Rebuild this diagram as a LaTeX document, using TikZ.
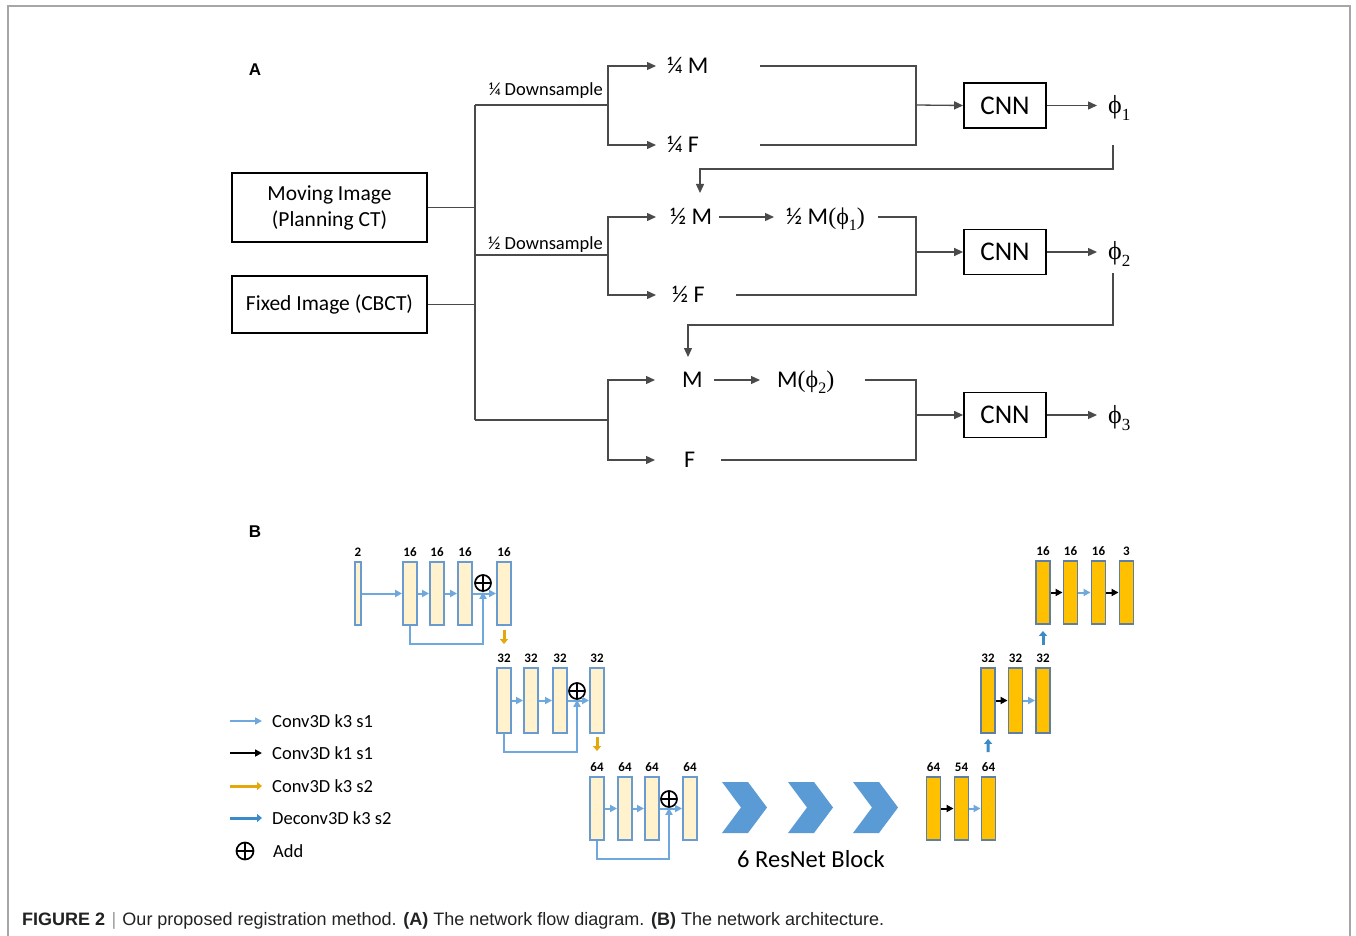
\documentclass[tikz,border=0pt]{standalone}
\usepackage{fontspec}
\setmainfont{Carlito}
\newfontfamily\capfont{Liberation Sans}
\newfontfamily\phifont{Liberation Serif}
\usetikzlibrary{arrows.meta,calc}

% displacement field symbol with a lowered index: #1 index, #2 index size
\newcommand{\phisub}[2]{{\phifont ϕ\raisebox{-0.25em}{\fontsize{#2}{#2}\selectfont #1}}}

\definecolor{wiregrey}{HTML}{4A4A4A}
\definecolor{framegrey}{HTML}{A6A6A6}
\definecolor{lightblue}{HTML}{6FA8DC}
\definecolor{barblue}{HTML}{6A9BD0}
\definecolor{cream}{HTML}{FFF2CC}
\definecolor{gold}{HTML}{FFC000}
\definecolor{decbord}{HTML}{5E7FA3}
\definecolor{downgold}{HTML}{E3A90C}
\definecolor{upblue}{HTML}{3A8CC9}
\definecolor{chevblue}{HTML}{5B9BD5}
\definecolor{captext}{HTML}{222222}
\definecolor{capbar}{HTML}{9A9A9A}

\tikzset{
  txt/.style={inner sep=0pt, text height=15.5pt, text depth=0pt,
    font=\fontsize{24}{28}\selectfont},
  dslabel/.style={inner sep=0pt, font=\fontsize{18.5}{20}\selectfont},
  imgbox/.style={draw=black, line width=1.7pt, inner sep=0pt,
    minimum width=195pt, font=\fontsize{21.5}{26}\selectfont, align=center},
  cnnbox/.style={draw=black, line width=1.8pt, inner sep=0pt,
    minimum width=82pt, minimum height=45pt, font=\fontsize{27}{30}\selectfont},
  phinode/.style={inner sep=0pt, font=\fontsize{26}{28}\selectfont},
  wire/.style={draw=wiregrey, line width=1.3pt},
  arr/.style={wire, -{Triangle[length=9pt,width=8pt]}},
  panel/.style={inner sep=0pt, font=\capfont\bfseries\fontsize{17}{18}\selectfont},
  encbar/.style={draw=barblue, fill=cream, line width=1.9pt, inner sep=0pt,
    minimum width=14pt, minimum height=63pt},
  decbar/.style={draw=decbord, fill=gold, line width=1.9pt, inner sep=0pt,
    minimum width=14pt, minimum height=63pt},
  num/.style={inner sep=0pt, anchor=base, font=\bfseries\fontsize{13}{14}\selectfont},
  cthree/.style={draw=lightblue, line width=2pt, -{Triangle[length=7pt,width=7pt]}},
  cone/.style={draw=black, line width=2pt, -{Triangle[length=7pt,width=7pt]}},
  downarr/.style={draw=downgold, line width=3pt, -{Triangle[length=5pt,width=8pt]}},
  uparr/.style={draw=upblue, line width=3pt, -{Triangle[length=5pt,width=8pt]}},
  addsym/.style={circle, draw=black, line width=1.7pt, inner sep=0pt, minimum size=16pt,
    path picture={\draw[line width=1.7pt]
      (path picture bounding box.north) -- (path picture bounding box.south)
      (path picture bounding box.west) -- (path picture bounding box.east);}},
  chev/.style={fill=chevblue},
  legtxt/.style={inner sep=0pt, anchor=west, font=\fontsize{18.5}{20}\selectfont},
}

\begin{document}
\begin{tikzpicture}[x=1pt,y=-1pt]
\useasboundingbox (0,0) rectangle (1356,936);
\fill[white] (0,0) rectangle (1356,936);

% figure frame
\draw[framegrey, line width=1.3pt] (8,936) -- (8,6) -- (1350,6) -- (1350,936);

% ================= panel A =================
\node[panel] (labA) at (255,70) {A};

\node[imgbox, minimum height=69pt] (mov) at (329.5,207.5) {Moving Image\\(Planning CT)};
\node[imgbox, minimum height=57pt] (fix) at (329.5,304.5) {Fixed Image (CBCT)};

\coordinate (t1) at (475,105);
\coordinate (t2) at (475,255);
\coordinate (t3) at (475,420);
\coordinate (b1) at (608,105);
\coordinate (b2) at (608,255);
\coordinate (b3) at (608,420);

\draw[wire] (t1) -- (t3);
\draw[wire] (mov.east) -- (mov.east -| t1);
\draw[wire] (fix.east) -- (fix.east -| t1);
\draw[wire] (t1) -- (b1);
\draw[wire] (t2) -- (b2);
\draw[wire] (t3) -- (b3);
\node[dslabel, anchor=east] (ds1) at (603,91) {¼ Downsample};
\node[dslabel, anchor=east] (ds2) at (603,245) {½ Downsample};

% quarter resolution
\node[txt, anchor=west] (qm) at (667,66) {¼ M};
\node[txt, anchor=west] (qf) at (667,145) {¼ F};
\draw[arr] (b1) |- ([xshift=-11pt]qm.west);
\draw[arr] (b1) |- ([xshift=-11pt]qf.west);
\coordinate (qmo) at (760,66);
\coordinate (qfo) at (760,145);
\coordinate (m1) at (916,105);
\node[cnnbox] (cnn1) at (1005,105.5) {CNN};
\draw[wire] (qmo) -| (m1);
\draw[wire] (qfo) -| (m1);
\draw[arr] (m1) -- (cnn1.west);
\node[phinode, anchor=west] (p1) at (1108,108) {\phisub{1}{17}};
\draw[arr] (cnn1.east) -- ($(cnn1.east -| p1.west)+(-11,0)$);

% feedback of phi_1
\coordinate (fb1s) at (1113,145);
\coordinate (fb1e) at (700,193);
\draw[arr] (fb1s) -- ++(0,24) -| (fb1e);

% half resolution
\node[txt, anchor=west] (hm) at (670,217) {½ M};
\node[txt, anchor=west] (hmw) at (786,217) {½ M{\phifont(}\phisub{1}{16}{\phifont)}};
\node[txt, anchor=west] (hf) at (672,295) {½ F};
\draw[arr] (b2) |- ([xshift=-14pt]hm.west);
\draw[arr] (b2) |- ([xshift=-16pt]hf.west);
\draw[arr] ([xshift=7pt]hm.east) -- ([xshift=-12pt]hmw.west);
\coordinate (m2) at (916,252);
\node[cnnbox] (cnn2) at (1005,252) {CNN};
\draw[wire] ([xshift=13pt]hmw.east) -| (m2);
\draw[wire] ([xshift=31pt]hf.east) -| (m2);
\draw[arr] (m2) -- (cnn2.west);
\node[phinode, anchor=west] (p2) at (1108,254) {\phisub{2}{17}};
\draw[arr] (cnn2.east) -- ($(cnn2.east -| p2.west)+(-11,0)$);

% feedback of phi_2
\coordinate (fb2s) at (1113,273);
\coordinate (fb2e) at (688,357);
\draw[arr] (fb2s) -- ++(0,52) -| (fb2e);

% full resolution
\node[txt, anchor=west] (fm) at (682,380) {M};
\node[txt, anchor=west] (fmw) at (777,380) {M{\phifont(}\phisub{2}{16}{\phifont)}};
\node[txt, anchor=west] (ff) at (684,460) {F};
\draw[arr] (b3) |- ([xshift=-27pt]fm.west);
\draw[arr] (b3) |- ([xshift=-29pt]ff.west);
\draw[arr] ([xshift=11pt]fm.east) -- ([xshift=-17pt]fmw.west);
\coordinate (m3) at (916,415);
\node[cnnbox] (cnn3) at (1005,415) {CNN};
\draw[wire] ([xshift=30pt]fmw.east) -| (m3);
\draw[wire] ([xshift=26pt]ff.east) -| (m3);
\draw[arr] (m3) -- (cnn3.west);
\node[phinode, anchor=west] (p3) at (1108,418) {\phisub{3}{17}};
\draw[arr] (cnn3.east) -- ($(cnn3.east -| p3.west)+(-11,0)$);

% ================= panel B =================
\node[panel] (labB) at (255,532) {B};

% encoder, level 1
\node[encbar, minimum width=6pt] (e11) at (358,593.5) {};
\node[encbar] (e12) at (410,593.5) {};
\node[encbar] (e13) at (437,593.5) {};
\node[encbar] (e14) at (465,593.5) {};
\node[encbar] (e15) at (504,593.5) {};
\foreach \b/\n in {e11/2,e12/16,e13/16,e14/16,e15/16}
  \node[num] at ([yshift=5pt]\b.north) {\n};
\node[addsym] (add1) at (483,583) {};
\draw[cthree] (e11.east) -- (e12.west);
\draw[cthree] (e12.east) -- (e13.west);
\draw[cthree] (e13.east) -- (e14.west);
\draw[cthree] (e14.east) -- (e15.west);
\draw[cthree] (e12.south) -- ++(0,18) -| (add1.south);

% encoder, level 2
\node[encbar, minimum height=65pt] (e21) at (504,700.5) {};
\node[encbar, minimum height=65pt] (e22) at (531,700.5) {};
\node[encbar, minimum height=65pt] (e23) at (560,700.5) {};
\node[encbar, minimum height=65pt] (e24) at (597,700.5) {};
\foreach \b in {e21,e22,e23,e24}
  \node[num] at ([yshift=5pt]\b.north) {32};
\node[addsym] (add2) at (577,691) {};
\draw[cthree] (e21.east) -- (e22.west);
\draw[cthree] (e22.east) -- (e23.west);
\draw[cthree] (e23.east) -- (e24.west);
\draw[cthree] (e21.south) -- ++(0,18) -| (add2.south);
\draw[downarr, shorten <=4pt, shorten >=23pt] (e15.south) -- (e21.north);

% encoder, level 3
\node[encbar] (e31) at (597,808.5) {};
\node[encbar] (e32) at (625,808.5) {};
\node[encbar] (e33) at (652,808.5) {};
\node[encbar] (e34) at (690,808.5) {};
\foreach \b in {e31,e32,e33,e34}
  \node[num] at ([yshift=5pt]\b.north) {64};
\node[addsym] (add3) at (669,799) {};
\draw[cthree] (e31.east) -- (e32.west);
\draw[cthree] (e32.east) -- (e33.west);
\draw[cthree] (e33.east) -- (e34.west);
\draw[cthree] (e31.south) -- ++(0,18) -| (add3.south);
\draw[downarr, shorten <=3pt, shorten >=25pt] (e24.south) -- (e31.north);

% residual blocks
\fill[chev] (722,782) -- (748,782) -- (767,807.5) -- (748,833) -- (722,833) -- (741,807.5) -- cycle;
\fill[chev] (788,782) -- (814,782) -- (833,807.5) -- (814,833) -- (788,833) -- (807,807.5) -- cycle;
\fill[chev] (853,782) -- (879,782) -- (898,807.5) -- (879,833) -- (853,833) -- (872,807.5) -- cycle;
\node[inner sep=0pt, font=\fontsize{24.5}{26}\selectfont] (res) at (811,859) {6 ResNet Block};

% decoder, level 3
\node[decbar] (d31) at (933.5,808.5) {};
\node[decbar] (d32) at (961.5,808.5) {};
\node[decbar] (d33) at (988.5,808.5) {};
\foreach \b/\n in {d31/64,d32/54,d33/64}
  \node[num] at ([yshift=5pt]\b.north) {\n};
\draw[cone] (d31.east) -- (d32.west);
\draw[cthree] (d32.east) -- (d33.west);

% decoder, level 2
\node[decbar, minimum height=65pt] (d21) at (988,700.5) {};
\node[decbar, minimum height=65pt] (d22) at (1015.5,700.5) {};
\node[decbar, minimum height=65pt] (d23) at (1043,700.5) {};
\foreach \b in {d21,d22,d23}
  \node[num] at ([yshift=5pt]\b.north) {32};
\draw[cone] (d21.east) -- (d22.west);
\draw[cthree] (d22.east) -- (d23.west);
\draw[uparr, shorten <=24pt, shorten >=5pt] (d33.north) -- (d21.south);

% decoder, level 1
\node[decbar] (d11) at (1043,592.5) {};
\node[decbar] (d12) at (1070.5,592.5) {};
\node[decbar] (d13) at (1098.5,592.5) {};
\node[decbar] (d14) at (1126.5,592.5) {};
\foreach \b/\n in {d11/16,d12/16,d13/16,d14/3}
  \node[num] at ([yshift=5pt]\b.north) {\n};
\draw[cone] (d11.east) -- (d12.west);
\draw[cthree] (d12.east) -- (d13.west);
\draw[cone] (d13.east) -- (d14.west);
\draw[uparr, shorten <=22pt, shorten >=6pt] (d23.north) -- (d11.south);

% legend
\node[legtxt] (lt1) at (272,721) {Conv3D k3 s1};
\node[legtxt] (lt2) at (272,753) {Conv3D k1 s1};
\node[legtxt] (lt3) at (272,786) {Conv3D k3 s2};
\node[legtxt] (lt4) at (272,818) {Deconv3D k3 s2};
\node[legtxt] (lt5) at (273,851) {Add};
\coordinate (lg1) at (230,721);
\coordinate (lg2) at (230,753);
\coordinate (lg3) at (230,786);
\coordinate (lg4) at (230,818);
\draw[cthree, line width=1.6pt] (lg1) -- ([xshift=-10pt]lt1.west);
\draw[cone, line width=1.6pt] (lg2) -- ([xshift=-10pt]lt2.west);
\draw[downarr] (lg3) -- ([xshift=-10pt]lt3.west);
\draw[uparr] (lg4) -- ([xshift=-10pt]lt4.west);
\node[addsym, minimum size=17pt] (lgadd) at (245,851) {};

% caption
\node[inner sep=0pt, anchor=base west, text=captext,
      font=\capfont\fontsize{18}{20}\selectfont] (cap) at (22,925.5)
  {\textbf{FIGURE 2}\hspace{0.35em}{\color{capbar}|}\hspace{0.35em}Our proposed registration method. \textbf{(A)} The network flow diagram. \textbf{(B)} The network architecture.};
\end{tikzpicture}
\end{document}
